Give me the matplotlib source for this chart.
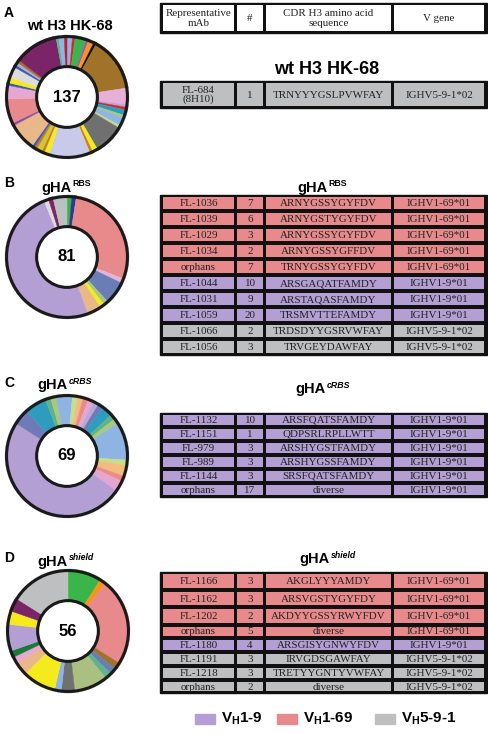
import matplotlib.pyplot as plt
from matplotlib.patches import Rectangle, Circle

plt.rcParams['font.family'] = ['Liberation Sans', 'DejaVu Sans']
plt.rcParams['mathtext.fontset'] = 'custom'
plt.rcParams['mathtext.rm'] = 'Liberation Sans'
plt.rcParams['mathtext.it'] = 'Liberation Sans:italic'
plt.rcParams['mathtext.bf'] = 'Liberation Sans:bold'

W, H = 488, 734
SERIF = ['Liberation Serif', 'DejaVu Serif']

# V gene colours
VH169 = '#E88A8C'
VH19 = '#B39FD3'
VH591 = '#BEBFC1'
gene_color = {'IGHV1-69*01': VH169, 'IGHV1-9*01': VH19, 'IGHV5-9-1*02': VH591}

# ---- donut data (clonotype sizes, clockwise from 12 o'clock) ----
a_counts = [2, 1, 4, 1, 2, 1, 20, 6, 1, 1, 2, 1, 3, 1, 11, 2, 1, 15, 2, 1, 2, 1, 1,
            10, 1, 9, 5, 1, 2, 4, 1, 1, 1, 16, 1, 2, 1]
a_colors = ['#8EB4E3', '#D7262E', '#3BB54A', '#9B59B6', '#F7941D', '#111111',
            '#A0722A', '#E8B0D6', '#B8A8D8', '#D7262E', '#2E9CBF', '#A9C97A',
            '#8EB4E3', '#C5D88A', '#707070', '#F5EB1C', '#D07828', '#C9C9EA',
            '#F5EB1C', '#D07828', '#C8C83A', '#D07828', '#3A5FB0', '#E8B888',
            '#8E4FA0', '#E88A8C', '#E6A8D0', '#3A5FB0', '#F5EB1C', '#DCDCDC',
            '#3A5FB0', '#B8A8D8', '#A0722A', '#7B2468', '#5FB38A', '#8EB4E3',
            '#B5202A']

b_counts = [1, 1, 23, 1, 5, 1, 1, 3, 40, 1, 1, 3]
b_colors = ['#3BB54A', '#2B3A9A', VH169, '#E3B4DC', '#6A7DB5', '#A9C97A',
            '#F5EB1C', '#E8B888', VH19, '#DCDCDC', '#7B2468', VH591]

c_counts = [1, 1, 1, 1, 1, 1, 1, 2, 1, 1, 7, 1, 2, 1, 2, 34, 3, 4, 1, 1, 2]
c_colors = ['#8EB4E3', '#C5DE8C', '#F0BC80', '#EC8A8A', '#E3A6CF', '#B8A8D8',
            '#6E7BB8', '#2E9CBF', '#5FB38A', '#A9C97A', '#8EB4E3', '#C5DE8C',
            '#F0BC80', '#EC8A8A', '#E3A6CF', VH19, '#6E7BB8', '#2E9CBF',
            '#5FB38A', '#A9C97A', '#8EB4E3']

d_counts = [5, 1, 13, 1, 1, 1, 5, 2, 1, 5, 2, 1, 1, 4, 2, 2, 9]
d_colors = ['#3BB54A', '#F7941D', VH169, '#A0722A', '#6A7DB5', '#5FB38A',
            '#A9C080', '#707070', '#8EB4E3', '#F5EB1C', '#E8B888', '#E6A8D0',
            '#1A7A3A', VH19, '#F5EB1C', '#7B2468', VH591]

# ---- table data ----
header = ['Representative\nmAb', '#', 'CDR H3 amino acid\nsequence', 'V gene']

a_mab = ['FL-684\n(8H10)']
a_num = ['1']
a_seq = ['TRNYYYGSLPVWFAY']
a_gene = ['IGHV5-9-1*02']

b_mab = ['FL-1036', 'FL-1039', 'FL-1029', 'FL-1034', 'orphans', 'FL-1044',
         'FL-1031', 'FL-1059', 'FL-1066', 'FL-1056']
b_num = ['7', '6', '3', '2', '7', '10', '9', '20', '2', '3']
b_seq = ['ARNYGSSYGYFDV', 'ARNYGSTYGYFDV', 'ARNYGSSYGYFDV', 'ARNYGSSYGFFDV',
         'TRNYGSSYGYFDV', 'ARSGAQATFAMDY', 'ARSTAQASFAMDY', 'TRSMVTTEFAMDY',
         'TRDSDYYGSRVWFAY', 'TRVGEYDAWFAY']
b_gene = ['IGHV1-69*01'] * 5 + ['IGHV1-9*01'] * 3 + ['IGHV5-9-1*02'] * 2

c_mab = ['FL-1132', 'FL-1151', 'FL-979', 'FL-989', 'FL-1144', 'orphans']
c_num = ['10', '1', '3', '3', '3', '17']
c_seq = ['ARSFQATSFAMDY', 'QDPSRLRPLLWTT', 'ARSHYGSTFAMDY', 'ARSHYGSSFAMDY',
         'SRSFQATSFAMDY', 'diverse']
c_gene = ['IGHV1-9*01'] * 6

d_mab = ['FL-1166', 'FL-1162', 'FL-1202', 'orphans', 'FL-1180', 'FL-1191',
         'FL-1218', 'orphans']
d_num = ['3', '3', '2', '5', '4', '3', '3', '2']
d_seq = ['AKGLYYYAMDY', 'ARSVGSTYGYFDY', 'AKDYYGSSYRWYFDV', 'diverse',
         'ARSGISYGNWYFDV', 'IRVGDSGAWFAY', 'TRETYYGNTYVWFAY', 'diverse']
d_gene = ['IGHV1-69*01'] * 4 + ['IGHV1-9*01'] + ['IGHV5-9-1*02'] * 3

legend_labels = [r'V$_{\mathbf{H}}$1-9', r'V$_{\mathbf{H}}$1-69', r'V$_{\mathbf{H}}$5-9-1']
legend_colors = [VH19, VH169, VH591]

fig = plt.figure(figsize=(W / 100, H / 100), dpi=100)
ax = fig.add_axes([0, 0, 1, 1])
ax.set_xlim(0, W)
ax.set_ylim(H, 0)
ax.axis('off')

COLS = [(163, 234), (237, 263), (266, 391), (394, 484)]


def draw_table(top, heights, rows, fills, inset=1.6):
    bottom = top + sum(heights)
    ax.add_patch(Rectangle((160, top), 327, bottom - top, color='#111111', zorder=1))
    y = top
    for h, row, fc in zip(heights, rows, fills):
        for (x0, x1), txt in zip(COLS, row):
            ax.add_patch(Rectangle((x0, y + inset), x1 - x0, h - 2 * inset,
                                   facecolor=fc, edgecolor='none', zorder=2))
            ax.text((x0 + x1) / 2, y + h / 2 + 0.5, txt, ha='center', va='center',
                    family=SERIF, fontsize=7.9, linespacing=1.0, zorder=3,
                    color='#222222')
        y += h


def donut(cx, cy, counts, colors, label):
    r = 62
    dax = fig.add_axes([(cx - r) / W, 1 - (cy + r) / H, 2 * r / W, 2 * r / H])
    wedges, _ = dax.pie(counts, colors=colors, startangle=90, counterclock=False,
                        radius=1, wedgeprops=dict(width=0.51, linewidth=0.3))
    for w in wedges:
        w.set_edgecolor(w.get_facecolor())
    dax.add_patch(Circle((0, 0), 0.975, fill=False, lw=2.2, ec='#1a1a1a', clip_on=False))
    dax.add_patch(Circle((0, 0), 0.49, fc='white', lw=2.2, ec='#1a1a1a', clip_on=False))
    dax.text(0, 0, label, ha='center', va='center', fontsize=12, fontweight='bold')
    dax.set_xlim(-1, 1)
    dax.set_ylim(-1, 1)
    dax.set_aspect('equal')
    dax.axis('off')


def gha_title(xsplit, ybase, sup, italic):
    ax.text(xsplit, ybase, 'gHA', fontsize=10.5, fontweight='bold', ha='right', va='baseline')
    ax.text(xsplit + 0.5, ybase - 5.5, sup, fontsize=6.3, fontweight='bold',
            fontstyle='italic' if italic else 'normal', ha='left', va='baseline')


# panel letters and donut titles
for letter, y in zip('ABCD', [13, 183, 383, 558]):
    ax.text(4, y, letter, fontsize=10, fontweight='bold', va='center', ha='left')
ax.text(70, 26, 'wt H3 HK-68', fontsize=10.5, fontweight='bold', ha='center', va='center')
gha_title(72, 192, 'RBS', False)
gha_title(68, 389, 'cRBS', True)
gha_title(68, 566, 'shield', True)

donut(67, 97, a_counts, a_colors, str(sum(a_counts)))
donut(67, 257, b_counts, b_colors, str(sum(b_counts)))
donut(67, 456, c_counts, c_colors, str(sum(c_counts)))
donut(68, 631, d_counts, d_colors, str(sum(d_counts)))

# table titles
ax.text(327, 70, 'wt H3 HK-68', fontsize=13, fontweight='bold', ha='center', va='center')
gha_title(328, 192, 'RBS', False)
gha_title(326, 393, 'cRBS', True)
gha_title(330, 563, 'shield', True)

# tables
draw_table(3, [30], [header], ['white'])
draw_table(81, [27], list(zip(a_mab, a_num, a_seq, a_gene)),
           [gene_color[g] for g in a_gene])
draw_table(195, [16] * len(b_mab), list(zip(b_mab, b_num, b_seq, b_gene)),
           [gene_color[g] for g in b_gene])
draw_table(413, [14] * len(c_mab), list(zip(c_mab, c_num, c_seq, c_gene)),
           [gene_color[g] for g in c_gene])
draw_table(572, [18, 17, 18, 13, 14, 14, 14, 13], list(zip(d_mab, d_num, d_seq, d_gene)),
           [gene_color[g] for g in d_gene])

# legend
for x, lab, col in zip([195, 277, 375], legend_labels, legend_colors):
    ax.add_patch(Rectangle((x, 714), 20, 10, color=col))
    ax.text(x + 26, 719, lab, fontsize=11, fontweight='bold', ha='left', va='center')

fig.savefig('out.png', dpi=100)
